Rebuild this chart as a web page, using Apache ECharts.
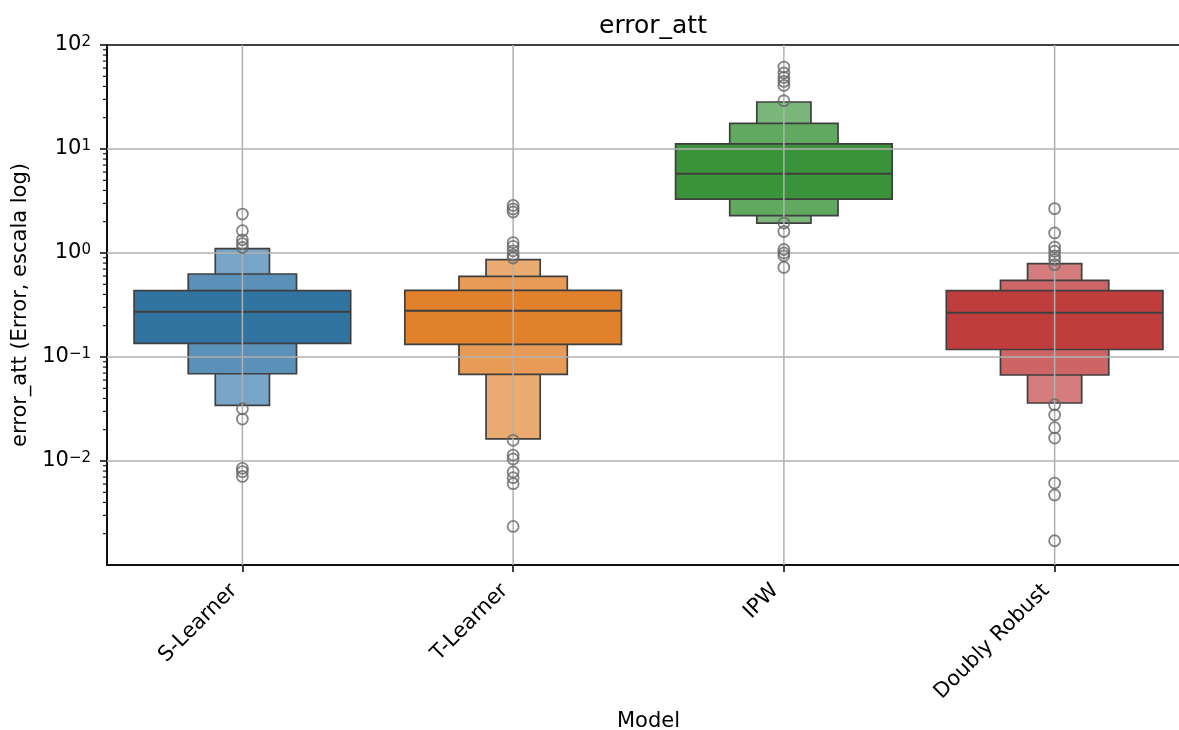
<!DOCTYPE html>
<html><head><meta charset="utf-8">
<script src="https://cdn.jsdelivr.net/npm/echarts@6/dist/echarts.min.js"></script>
<style>html,body{margin:0;padding:0;background:#fff}#chart{width:1179px;height:730px}</style>
</head><body><div id="chart"></div>
<script>
// ---------- data ----------
const categories = ['S-Learner', 'T-Learner', 'IPW', 'Doubly Robust'];
const medians    = [0.273, 0.279, 5.79, 0.267];
const level1Low  = [0.135, 0.132, 3.30, 0.118];
const level1High = [0.434, 0.437, 11.2, 0.434];
const level2Low  = [0.069, 0.068, 2.29, 0.0671];
const level2High = [0.628, 0.596, 17.6, 0.546];
const level3Low  = [0.0343, 0.0163, 1.94, 0.0361];
const level3High = [1.10, 0.862, 28.3, 0.789];
const outliersS   = [2.37, 1.64, 1.34, 1.23, 1.13, 0.0318, 0.0253, 0.0085, 0.0079, 0.0071];
const outliersT   = [2.87, 2.65, 2.48, 1.26, 1.16, 1.05, 0.957, 0.895, 0.0158, 0.0114, 0.01045, 0.00784, 0.00691, 0.00605, 0.00235];
const outliersIPW = [61.4, 53.8, 48.8, 44.7, 40.9, 29.1, 1.94, 1.61, 1.08, 1.0, 0.94, 0.727];
const outliersDR  = [2.67, 1.56, 1.14, 1.04, 0.94, 0.862, 0.772, 0.0348, 0.0277, 0.0209, 0.01663, 0.00614, 0.00471, 0.00171];
const yMajorTicks = [0.01, 0.1, 1, 10, 100];
const yGridValues = [0.01, 0.1, 1, 10];

// ---------- styles ----------
const palette = [
  ['#3274a1', '#5b90b8', '#79a6c8'],
  ['#e1812c', '#e79b56', '#eaac72'],
  ['#3a923a', '#61a861', '#7bb77b'],
  ['#c03d3e', '#cd6465', '#d57d7e']
];
const levelWidths = [0.8, 0.4, 0.2];
const FONT = 'DejaVu Sans';
const EDGE = '#3f3f3f';

// build series data from arrays
const levelsLow = [level1Low, level2Low, level3Low];
const levelsHigh = [level1High, level2High, level3High];
const boxData = [];
for (let lev = 2; lev >= 0; lev--) {
  for (let c = 0; c < categories.length; c++) {
    boxData.push([c, levelsLow[lev][c], levelsHigh[lev][c], lev]);
  }
}
const medianData = medians.map((m, i) => [i, m]);
const outlierData = [];
[outliersS, outliersT, outliersIPW, outliersDR].forEach((arr, i) => arr.forEach(v => outlierData.push([i, v])));
const yMinorTicks = [];
for (let e = -3; e <= 1; e++) for (let m = 2; m <= 9; m++) yMinorTicks.push(m * Math.pow(10, e));

function bandWidth(api) { return api.coord([1, 1])[0] - api.coord([0, 1])[0]; }

const chart = echarts.init(document.getElementById('chart'), null, {renderer: 'canvas'});
chart.setOption({
  animation: false,
  textStyle: {fontFamily: FONT},
  title: {
    text: 'error_att', left: 648, top: 9, textAlign: 'center',
    textStyle: {fontFamily: FONT, fontSize: 25, fontWeight: 'normal', color: '#000'}
  },
  grid: {left: 107, top: 45, width: 1083, height: 520, outerBoundsMode: 'none', containLabel: false,
    show: true, borderColor: '#000', borderWidth: 1.5, backgroundColor: '#fff'},
  xAxis: {
    type: 'category', data: categories, boundaryGap: true,
    axisLine: {show: true, lineStyle: {color: '#000', width: 1.5}},
    axisTick: {show: true, alignWithLabel: true, length: 7, lineStyle: {color: '#000', width: 1.5}},
    axisLabel: {rotate: 45, interval: 0, fontSize: 21, color: '#000', margin: 14, padding: [0, 12, 0, 0], fontFamily: FONT},
    splitLine: {show: false},
    name: 'Model', nameLocation: 'middle', nameGap: 146,
    nameTextStyle: {fontSize: 21, color: '#000', fontFamily: FONT}
  },
  yAxis: {
    type: 'log', logBase: 10, min: 0.001, max: 100,
    axisLine: {show: true, lineStyle: {color: '#000', width: 1.5}},
    axisTick: {show: false},
    splitLine: {show: false},
    axisLabel: {
      fontSize: 21, color: '#000', margin: 16, fontFamily: FONT,
      formatter: function (v) {
        const e = Math.round(Math.log10(v));
        if (e < -2) return '';
        return '10{s|' + (e < 0 ? '\u2212' + (-e) : e) + '}';
      },
      rich: {s: {fontSize: 15, verticalAlign: 'top', color: '#000', fontFamily: FONT}}
    },
    name: 'error_att (Error, escala log)', nameLocation: 'middle', nameGap: 71, nameRotate: 90,
    nameTextStyle: {fontSize: 21, color: '#000', fontFamily: FONT}
  },
  series: [
    {
      type: 'custom', z: 2, data: boxData, encode: {x: 0, y: [1, 2]},
      renderItem: function (params, api) {
        const c = api.value(0), lo = api.value(1), hi = api.value(2), lev = api.value(3);
        const w = bandWidth(api) * levelWidths[lev];
        const pHi = api.coord([c, hi]), pLo = api.coord([c, lo]);
        return {type: 'rect', shape: {x: pHi[0] - w / 2, y: pHi[1], width: w, height: pLo[1] - pHi[1]},
          style: {fill: palette[c][lev], stroke: EDGE, lineWidth: 1.7}};
      }
    },
    {
      type: 'custom', z: 3, data: medianData, encode: {x: 0, y: 1},
      renderItem: function (params, api) {
        const c = api.value(0), m = api.value(1);
        const w = bandWidth(api) * levelWidths[0];
        const p = api.coord([c, m]);
        return {type: 'line', shape: {x1: p[0] - w / 2, y1: p[1], x2: p[0] + w / 2, y2: p[1]},
          style: {stroke: EDGE, lineWidth: 2}};
      }
    },
    {
      type: 'custom', z: 4, data: yGridValues.map(v => [0, v]), encode: {x: 0, y: 1},
      renderItem: function (params, api) {
        const cs = params.coordSys;
        const y = api.coord([0, api.value(1)])[1];
        return {type: 'line', shape: {x1: cs.x, y1: y, x2: cs.x + cs.width, y2: y},
          style: {stroke: '#b0b0b0', lineWidth: 1.5}};
      }
    },
    {
      type: 'custom', z: 4, data: categories.map((c, i) => [i, 1]), encode: {x: 0, y: 1},
      renderItem: function (params, api) {
        const cs = params.coordSys;
        const x = api.coord([api.value(0), 1])[0];
        return {type: 'line', shape: {x1: x, y1: cs.y, x2: x, y2: cs.y + cs.height},
          style: {stroke: '#b0b0b0', lineWidth: 1.5}};
      }
    },
    {
      type: 'custom', z: 6, clip: false,
      data: yMajorTicks.map(v => [0, v, 7]).concat(yMinorTicks.map(v => [0, v, 4])), encode: {x: 0, y: 1},
      renderItem: function (params, api) {
        const cs = params.coordSys;
        const y = api.coord([0, api.value(1)])[1];
        const len = api.value(2);
        return {type: 'line', shape: {x1: cs.x - len, y1: y, x2: cs.x, y2: y},
          style: {stroke: '#000', lineWidth: len > 5 ? 1.5 : 1.1}};
      }
    },
    {
      type: 'scatter', z: 5, data: outlierData, symbol: 'circle', symbolSize: 11,
      itemStyle: {color: 'rgba(0,0,0,0)', borderColor: '#666666', borderWidth: 1.8}
    }
  ]
});
</script></body></html>
